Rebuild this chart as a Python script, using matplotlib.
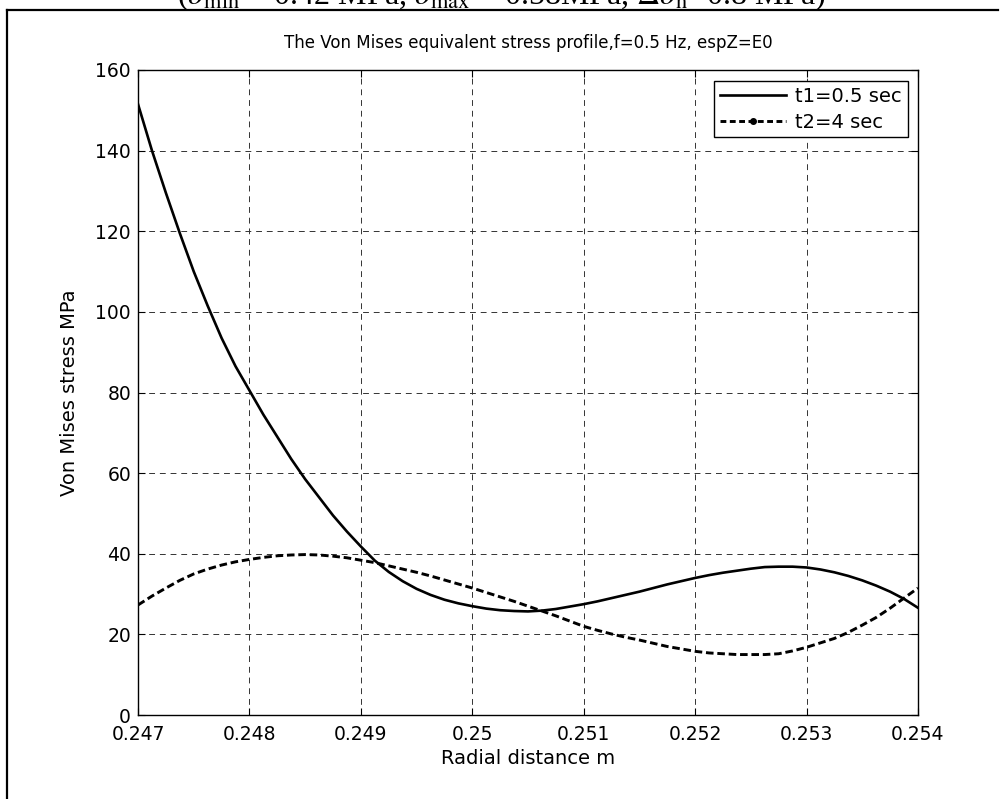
import matplotlib
matplotlib.use("Agg")
import matplotlib.pyplot as plt
from matplotlib.lines import Line2D

# radial positions (m) and Von Mises stress (MPa) at two instants
r = [0.247000, 0.247125, 0.247250, 0.247375, 0.247500, 0.247625, 0.247750, 0.247875,
     0.248000, 0.248125, 0.248250, 0.248375, 0.248500, 0.248625, 0.248750, 0.248875,
     0.249000, 0.249125, 0.249250, 0.249375, 0.249500, 0.249625, 0.249750, 0.249875,
     0.250000, 0.250125, 0.250250, 0.250375, 0.250500, 0.250625, 0.250750, 0.250875,
     0.251000, 0.251125, 0.251250, 0.251375, 0.251500, 0.251625, 0.251750, 0.251875,
     0.252000, 0.252125, 0.252250, 0.252375, 0.252500, 0.252625, 0.252750, 0.252875,
     0.253000, 0.253125, 0.253250, 0.253375, 0.253500, 0.253625, 0.253750, 0.253875,
     0.254000]
s_t1 = [151.5, 140.0, 129.5, 119.5, 110.0, 101.5, 93.5, 86.5,
        80.5, 74.5, 69.0, 63.5, 58.5, 54.0, 49.5, 45.5,
        41.8, 38.3, 35.5, 33.2, 31.3, 29.8, 28.6, 27.7,
        27.0, 26.4, 26.0, 25.8, 25.7, 25.9, 26.3, 26.9,
        27.5, 28.2, 29.0, 29.8, 30.6, 31.5, 32.4, 33.2,
        34.0, 34.7, 35.3, 35.8, 36.3, 36.7, 36.8, 36.8,
        36.6, 36.1, 35.4, 34.5, 33.4, 32.1, 30.6, 28.8,
        26.6]
s_t2 = [27.3, 29.5, 31.5, 33.4, 35.0, 36.2, 37.2, 38.0,
        38.6, 39.1, 39.5, 39.7, 39.8, 39.7, 39.4, 39.0,
        38.4, 37.8, 37.0, 36.2, 35.4, 34.5, 33.5, 32.5,
        31.5, 30.4, 29.3, 28.2, 27.0, 25.8, 24.6, 23.3,
        22.0, 21.0, 20.1, 19.3, 18.6, 17.8, 17.0, 16.4,
        15.8, 15.4, 15.2, 15.0, 15.0, 15.0, 15.2, 15.9,
        16.8, 17.9, 19.0, 20.5, 22.3, 24.2, 26.5, 29.0,
        31.5]

xticks = [0.247, 0.248, 0.249, 0.250, 0.251, 0.252, 0.253, 0.254]
xticklabels = ["0.247", "0.248", "0.249", "0.25", "0.251", "0.252", "0.253", "0.254"]
yticks = [0, 20, 40, 60, 80, 100, 120, 140, 160]

FS = 13.5
plt.rcParams["font.family"] = ["DejaVu Sans"]
plt.rcParams["mathtext.fontset"] = "stix"

fig = plt.figure(figsize=(10.04, 7.99), dpi=100)
ax = fig.add_axes([0.1375, 0.1051, 0.7768, 0.8073])

ax.plot(r, s_t1, color="k", lw=1.9, ls="-")
ax.plot(r, s_t2, color="k", lw=2.1, ls=(0, (2.6, 1.3)))

ax.set_xlim(0.247, 0.254)
ax.set_ylim(0, 160)
ax.set_xticks(xticks)
ax.set_xticklabels(xticklabels)
ax.set_yticks(yticks)
ax.tick_params(direction="in", length=5, width=0.8, labelsize=FS,
               top=True, right=True, color="k")
ax.tick_params(axis="x", pad=7)
ax.tick_params(axis="y", pad=5)
ax.grid(True, color="0.2", lw=0.7, ls=(0, (6, 5)))
for sp in ax.spines.values():
    sp.set_linewidth(1.0)
    sp.set_color("k")

ax.set_title("The Von Mises equivalent stress profile,f=0.5 Hz, espZ=E0",
             fontsize=12, pad=16)
ax.set_xlabel("Radial distance m", fontsize=14, labelpad=4)
ax.set_ylabel("Von Mises stress MPa", fontsize=14, labelpad=12)

handles = [Line2D([], [], color="k", lw=1.9, ls="-"),
           Line2D([], [], color="k", lw=2.1, ls=(0, (2.0, 1.2)),
                  marker=".", markersize=8)]
leg = ax.legend(handles, ["t1=0.5 sec", "t2=4 sec"], loc="upper right",
                bbox_to_anchor=(0.987, 0.983), fontsize=14, fancybox=False,
                framealpha=1, edgecolor="k", handlelength=3.4,
                handletextpad=0.5, borderpad=0.3, labelspacing=0.35,
                borderaxespad=0)
leg.get_frame().set_linewidth(1.0)

# outer frame, left and top edges
fig.add_artist(Line2D([0.007, 0.007], [-0.05, 0.9875], transform=fig.transFigure,
                      color="k", lw=1.6))
fig.add_artist(Line2D([0.007, 0.994], [0.9875, 0.9875], transform=fig.transFigure,
                      color="k", lw=1.6))

# header line above the frame
fig.text(0.5, 0.9945,
         r"($\sigma_{\rm min}$ = 0.42 MPa, $\sigma_{\rm max}$ = 0.58MPa, $\Delta\sigma_{\rm n}$=0.8 MPa)",
         ha="center", va="baseline", fontsize=23, family="Liberation Serif")

fig.savefig("out.png", dpi=100)
